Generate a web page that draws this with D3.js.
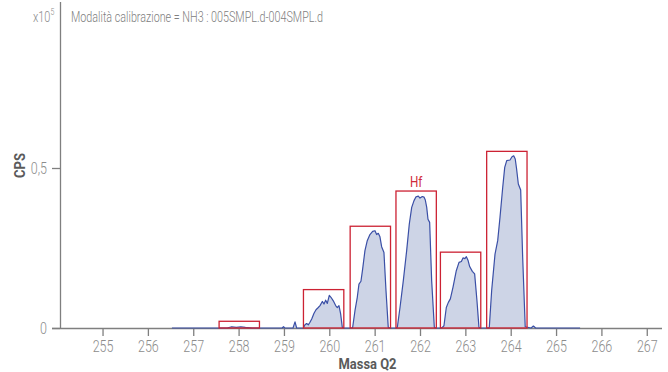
<!DOCTYPE html>
<html>
<head>
<meta charset="utf-8">
<script src="https://cdn.jsdelivr.net/npm/d3@7/dist/d3.min.js"></script>
<style>
  html, body { margin: 0; padding: 0; background: #fff; }
  svg { display: block; }
  text { font-family: Roboto, "Liberation Sans", sans-serif; }
</style>
</head>
<body>
<svg id="chart" width="668" height="372"></svg>
<script>
// Mass spectrum (Q2 mass vs counts per second, in units of 1e5)
const spectrumMass = [
  256.53, 257.75, 257.85, 257.95, 258.05, 258.15, 258.30,
  258.96, 258.99, 259.02, 259.20, 259.244, 259.28,
  259.427, 259.464, 259.50, 259.537, 259.574, 259.612, 259.663, 259.707, 259.757, 259.795,
  259.846, 259.883, 259.92, 259.956, 260.0, 260.037, 260.088, 260.14, 260.176, 260.213, 260.25, 260.287, 260.32,
  260.50, 260.515, 260.566, 260.617, 260.654, 260.698, 260.735, 260.786, 260.837, 260.896, 260.956,
  261.007, 261.044, 261.08, 261.117, 261.154, 261.205, 261.25, 261.30, 261.33,
  261.48, 261.50, 261.559, 261.632, 261.706, 261.764, 261.817, 261.868, 261.912, 261.963,
  262.0, 262.051, 262.088, 262.117, 262.148, 262.176, 262.213, 262.257, 262.316, 262.34,
  262.47, 262.493, 262.528, 262.58, 262.625, 262.669, 262.727, 262.80, 262.86, 262.912, 262.948,
  262.99, 263.022, 263.058, 263.095, 263.154, 263.205, 263.256, 263.30, 263.32,
  263.51, 263.528, 263.58, 263.654, 263.713, 263.764, 263.824, 263.868, 263.912, 263.985,
  264.029, 264.066, 264.10, 264.13, 264.168, 264.22, 264.264, 264.32, 264.45, 264.50, 264.55, 265.53
];
const spectrumCps = [
  0, 0, 0.004, 0.002, 0.004, 0.002, 0,
  0, 0.004, 0, 0, 0.019, 0,
  0, 0.010, 0.014, 0.010, 0.018, 0.028, 0.046, 0.057, 0.064, 0.070,
  0.083, 0.075, 0.087, 0.077, 0.102, 0.096, 0.085, 0.070, 0.064, 0.070, 0.044, 0.002, 0,
  0, 0.002, 0.054, 0.096, 0.137, 0.146, 0.184, 0.242, 0.273, 0.292, 0.302,
  0.304, 0.292, 0.296, 0.285, 0.254, 0.236, 0.117, 0.002, 0,
  0, 0.002, 0.064, 0.148, 0.242, 0.325, 0.377, 0.398, 0.410, 0.412,
  0.406, 0.411, 0.409, 0.400, 0.377, 0.340, 0.330, 0.148, 0.002, 0,
  0, 0.002, 0.007, 0.064, 0.080, 0.091, 0.127, 0.179, 0.205, 0.208, 0.219,
  0.217, 0.223, 0.212, 0.192, 0.177, 0.169, 0.085, 0.002, 0,
  0, 0.002, 0.117, 0.231, 0.273, 0.346, 0.440, 0.502, 0.523, 0.525,
  0.535, 0.538, 0.528, 0.497, 0.450, 0.431, 0.220, 0.004, 0, 0.006, 0, 0
];

// Integration windows around each isotope
const boxStart  = [257.57, 259.43, 260.46, 261.47, 262.45, 263.47];
const boxEnd    = [258.46, 260.32, 261.35, 262.36, 263.34, 264.36];
const boxHeight = [0.021, 0.120, 0.318, 0.428, 0.237, 0.552];
const boxLabels = ["", "", "", "Hf", "", ""];

const xTicks = [255, 256, 257, 258, 259, 260, 261, 262, 263, 264, 265, 266, 267];
const yTicks = [0, 0.5];
const yTickLabels = ["0", "0,5"];

const titleText = "Modalità calibrazione = NH3 : 005SMPL.d-004SMPL.d";
const xTitle = "Massa Q2";
const yTitle = "CPS";

const svg = d3.select("#chart");
const plotLeft = 60, plotRight = 662, plotTop = 8, plotBottom = 328;
const squeeze = 0.78;   // narrow lettering

const x = d3.scaleLinear().domain([254.062, 267.336]).range([plotLeft, plotRight]);
const y = d3.scaleLinear().domain([0, 1]).range([plotBottom, plotTop]);

const axisGrey = "#7f7f7f";
const labelGrey = "#8c8c8c";

const pts = spectrumMass.map((m, i) => [m, spectrumCps[i]]);

// filled spectrum
svg.append("path")
  .datum(pts)
  .attr("fill", "#cdd4e6")
  .attr("d", d3.area().x(d => x(d[0])).y0(y(0)).y1(d => y(d[1])));

// x axis
const xAxis = svg.append("g")
  .attr("transform", `translate(0,${plotBottom})`)
  .call(d3.axisBottom(x).tickValues(xTicks).tickSize(8).tickPadding(5).tickFormat(d3.format("d")));
xAxis.select(".domain").attr("d", `M${plotLeft - 8},0.5H${plotRight}`).attr("stroke", axisGrey).attr("stroke-width", 1.3);
xAxis.selectAll(".tick line").attr("stroke", axisGrey).attr("stroke-width", 1.3);
xAxis.selectAll(".tick text")
  .attr("fill", labelGrey).attr("font-size", 16).attr("font-family", null).attr("font-weight", 300)
  .attr("transform", `scale(${squeeze},1)`);

// y axis
const yAxis = svg.append("g")
  .attr("transform", `translate(${plotLeft},0)`)
  .call(d3.axisLeft(y).tickValues(yTicks).tickSize(8).tickPadding(5).tickFormat((d, i) => yTickLabels[i]));
yAxis.select(".domain").attr("d", `M0.5,${plotBottom}V2`).attr("stroke", axisGrey).attr("stroke-width", 1.3);
yAxis.selectAll(".tick line").attr("stroke", axisGrey).attr("stroke-width", 1.3);
yAxis.selectAll(".tick text")
  .attr("fill", labelGrey).attr("font-size", 16).attr("font-family", null).attr("font-weight", 300)
  .attr("x", -13 / squeeze)
  .attr("transform", `scale(${squeeze},1)`);

// spectrum outline
svg.append("path")
  .datum(pts)
  .attr("fill", "none")
  .attr("stroke", "#3a4fa6")
  .attr("stroke-width", 1.2)
  .attr("stroke-linejoin", "round")
  .attr("d", d3.line().x(d => x(d[0])).y(d => y(d[1])));

// isotope windows
const boxes = boxStart.map((s, i) => ({ s, e: boxEnd[i], h: boxHeight[i], label: boxLabels[i] }));
svg.append("g").selectAll("rect")
  .data(boxes).join("rect")
  .attr("x", d => x(d.s))
  .attr("y", d => y(d.h))
  .attr("width", d => x(d.e) - x(d.s))
  .attr("height", d => y(0) - y(d.h))
  .attr("fill", "none")
  .attr("stroke", "#cc2233")
  .attr("stroke-width", 1.3);

svg.append("g").selectAll("text")
  .data(boxes.filter(d => d.label)).join("text")
  .attr("transform", d => `translate(${x((d.s + d.e) / 2)},${y(d.h) - 4}) scale(${squeeze},1)`)
  .attr("text-anchor", "middle")
  .attr("fill", "#d02a3a")
  .attr("font-size", 15)
  .text(d => d.label);

// title
svg.append("text")
  .attr("x", 71).attr("y", 22)
  .attr("fill", "#808080")
  .attr("font-size", 14)
  .attr("font-weight", 300)
  .attr("textLength", 252)
  .attr("lengthAdjust", "spacingAndGlyphs")
  .text(titleText);

// scale factor
const sf = svg.append("text")
  .attr("transform", `translate(33,22) scale(${squeeze},1)`)
  .attr("fill", labelGrey).attr("font-size", 14).attr("font-weight", 300);
sf.append("tspan").text("x10");
sf.append("tspan").attr("dy", -7).attr("font-size", 9).text("5");

// axis titles
svg.append("text")
  .attr("x", 367.5).attr("y", 369)
  .attr("text-anchor", "middle")
  .attr("fill", "#5a5a5a")
  .attr("font-weight", "bold")
  .attr("font-size", 14)
  .attr("textLength", 58)
  .attr("lengthAdjust", "spacingAndGlyphs")
  .text(xTitle);

svg.append("text")
  .attr("transform", "translate(25,165.5) rotate(-90)")
  .attr("text-anchor", "middle")
  .attr("fill", "#5a5a5a")
  .attr("font-weight", "bold")
  .attr("font-size", 14.5)
  .attr("textLength", 25)
  .attr("lengthAdjust", "spacingAndGlyphs")
  .text(yTitle);
</script>
</body>
</html>
